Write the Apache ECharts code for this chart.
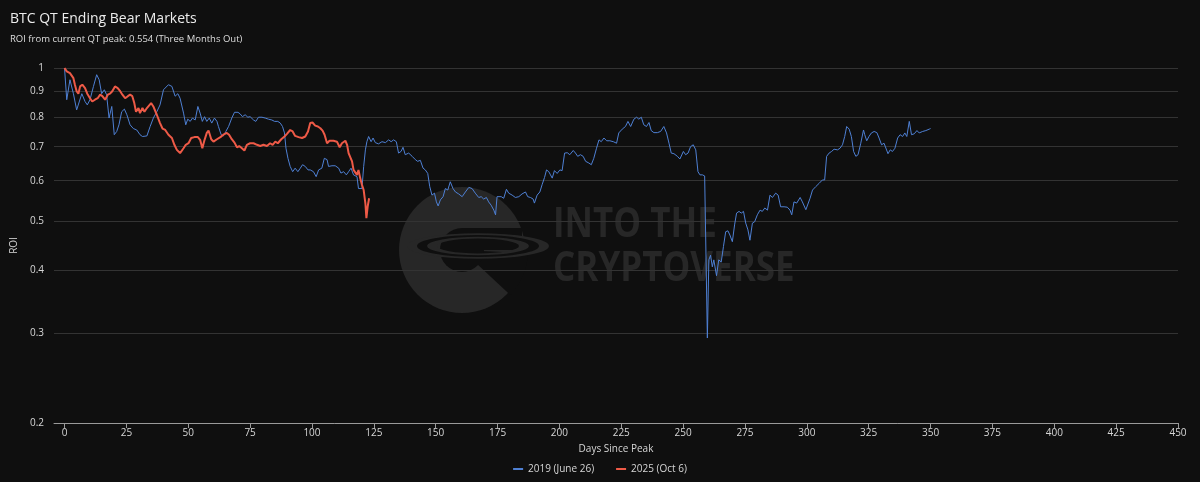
<!DOCTYPE html>
<html>
<head>
<meta charset="utf-8">
<script src="https://cdn.jsdelivr.net/npm/echarts@6/dist/echarts.min.js"></script>
<style>
html,body{margin:0;padding:0;background:#0f0f0f;}
#chart{width:1200px;height:482px;}
</style>
</head>
<body>
<div id="chart"></div>
<script>
// ---- data ----
const blueDays = [0,0.9,2.2,3.6,4.9,5.6,7,8.3,9.2,10.3,11.7,13,14,15,16.1,17,18,19.1,20.1,21.1,22,23.1,24.2,25.2,26.5,27.8,29.2,30.5,31.5,33.3,34.6,35.9,37.3,38.6,40,40.7,42,43.4,44.7,45.8,46.7,48.1,49,49.8,50.8,51.7,52.8,53.9,54.8,55.7,56.6,57.5,58.5,59.5,60.6,61.6,62.2,63.3,64.2,65.2,66.3,67.6,68.7,70.1,71,71.9,73,74.1,75,76.4,77.3,78.4,79.8,81.1,82.4,83.8,84.9,86.2,87.2,88.1,88.9,89.5,90.3,91.2,92.2,93.2,94.3,95.3,96.2,97.3,98.4,99.3,100.6,101.7,102.7,104,105,106.1,106.7,108.1,109.4,110.8,111.7,112.8,113.9,114.8,115.8,116.8,118.2,118.8,119.5,120.2,120.9,121.6,122.2,122.9,123.9,124.7,125.6,126.9,128.3,129.7,131,132,133,134.1,135,136,136.8,137.7,139.1,140.5,141.8,142.7,143.8,144.9,145.8,146.8,147.6,148.5,149.5,150.3,151,151.9,153,153.9,154.9,155.9,157,158,159.3,160.7,162,163.4,164.7,166,167.4,168.4,169.4,170.5,171.4,172.4,173.5,174.2,174.8,175.5,176.5,177.5,178.6,179.5,180.9,182.2,183.6,184.9,186.3,187.2,188.3,189.4,189.9,191,192.1,193,194,194.8,195.7,196.4,197.1,198,199.1,200.2,201.1,202.1,203.2,204.2,205.6,206.5,207.4,208.5,209.6,210.6,211.9,212.9,213.9,215,216,216.9,218,219.1,220.4,221.8,223.1,224,225.4,226.7,227.7,228.8,230.1,231.2,232.1,233.1,234.1,235.2,236.2,237.1,238.2,239.6,240.9,242.2,243.3,244.3,245.2,246.3,247.7,248.7,250.1,251,252,253,254.1,255.1,256,256.8,257.8,258.7,259.3,259.8,260.4,261.1,261.8,262.4,263.5,264.4,265.4,266.3,267.2,268.1,268.9,269.9,270.8,271.6,272.6,273.5,274.4,275.3,276.2,277,278,278.9,280,281.1,282,283,284.1,285.1,286.1,287.4,288.4,289.4,290.8,292.1,293.2,293.9,294.8,295.9,297.3,298.2,299.6,300.2,301.3,302.3,303.6,305,306.3,307.2,308,309,310,311,312.4,313.4,314.4,315.3,316.1,317.1,318,318.9,319.8,320.7,321.8,322.9,323.4,324.2,325.1,326.1,327.2,328.3,329.2,330.2,331.2,331.9,332.8,333.7,334.6,335.6,336.7,337.7,338.7,339.6,340.4,341.4,342.3,343.4,344.5,345.4,346.8,348.1,349.5,350];
const blueRoi = [1.0,0.866,0.948,0.89,0.827,0.82,0.89,0.859,0.846,0.866,0.92,0.97,0.948,0.89,0.906,0.886,0.797,0.84,0.739,0.75,0.773,0.82,0.83,0.809,0.773,0.76,0.755,0.739,0.733,0.735,0.767,0.797,0.82,0.846,0.906,0.9,0.927,0.92,0.88,0.89,0.872,0.815,0.773,0.793,0.785,0.797,0.79,0.84,0.815,0.785,0.802,0.785,0.797,0.779,0.797,0.785,0.767,0.739,0.735,0.75,0.767,0.797,0.818,0.818,0.812,0.802,0.809,0.8,0.802,0.79,0.785,0.8,0.8,0.797,0.793,0.79,0.785,0.785,0.779,0.767,0.745,0.695,0.664,0.64,0.625,0.635,0.625,0.635,0.645,0.64,0.63,0.63,0.625,0.611,0.63,0.635,0.664,0.66,0.64,0.642,0.642,0.635,0.621,0.625,0.616,0.625,0.635,0.616,0.611,0.579,0.575,0.579,0.64,0.69,0.716,0.733,0.716,0.728,0.713,0.709,0.716,0.713,0.722,0.716,0.722,0.716,0.68,0.685,0.698,0.675,0.68,0.67,0.66,0.655,0.658,0.635,0.63,0.62,0.584,0.562,0.567,0.545,0.535,0.55,0.558,0.579,0.575,0.597,0.579,0.57,0.565,0.558,0.57,0.582,0.579,0.567,0.556,0.558,0.552,0.556,0.545,0.537,0.525,0.514,0.558,0.554,0.558,0.554,0.577,0.567,0.562,0.556,0.558,0.565,0.57,0.558,0.556,0.552,0.542,0.562,0.57,0.589,0.609,0.63,0.625,0.616,0.607,0.628,0.62,0.63,0.628,0.68,0.681,0.675,0.688,0.68,0.67,0.675,0.67,0.655,0.65,0.645,0.664,0.695,0.722,0.716,0.728,0.719,0.719,0.716,0.711,0.745,0.758,0.767,0.785,0.767,0.793,0.8,0.793,0.8,0.773,0.767,0.781,0.753,0.746,0.746,0.75,0.767,0.745,0.711,0.68,0.678,0.67,0.662,0.685,0.675,0.68,0.7,0.706,0.69,0.625,0.616,0.616,0.613,0.611,0.294,0.419,0.428,0.406,0.419,0.39,0.419,0.415,0.445,0.476,0.478,0.469,0.455,0.491,0.518,0.522,0.518,0.522,0.495,0.48,0.458,0.495,0.498,0.514,0.525,0.522,0.53,0.525,0.562,0.556,0.567,0.562,0.533,0.533,0.532,0.525,0.514,0.545,0.542,0.556,0.545,0.526,0.53,0.554,0.575,0.584,0.593,0.602,0.602,0.67,0.68,0.685,0.692,0.69,0.695,0.706,0.733,0.767,0.758,0.733,0.685,0.67,0.675,0.711,0.755,0.739,0.719,0.733,0.745,0.75,0.746,0.728,0.706,0.711,0.706,0.678,0.69,0.685,0.695,0.728,0.739,0.733,0.745,0.733,0.785,0.739,0.742,0.753,0.745,0.75,0.753,0.758,0.76];
const redDays = [0,0.9,1.5,2.2,2.9,3.6,4.2,4.9,5.6,6.3,7.2,8.3,9.2,10.3,11.2,12.3,13.4,14.4,15.3,16.4,17.5,18.4,19.3,20.4,21.5,22.5,23.4,24.5,25.6,26.5,27.4,28.2,28.9,29.9,30.5,31.5,32.3,33.3,33.9,35,35.9,37.3,38.6,39.6,40.7,42,43.4,44.4,45.4,46.7,48.1,49,50.1,51.2,52.5,53.9,54.8,55.7,56.6,57.5,58.2,59.3,60.2,61.6,63,64.2,65.6,66.5,67.6,68.7,69.7,70.6,71.7,72.7,73.7,75,76.4,77.8,79.1,80.4,81.8,83.1,84.1,85.2,86.2,87.6,88.9,89.9,91.2,92.2,93.2,94.6,96,97.3,98.4,99.3,100.2,101.3,102.4,103.4,104.3,105.1,106.1,107.1,108.7,110.1,111.2,112.1,113.5,114.2,114.8,115.5,116.2,116.8,117.5,118.2,118.8,119.5,120.2,120.9,121.6,122,122.5,123.1];
const redRoi = [1.0,0.985,0.99,0.977,0.985,0.955,0.927,0.9,0.89,0.92,0.927,0.913,0.89,0.872,0.859,0.866,0.872,0.886,0.88,0.866,0.886,0.89,0.9,0.92,0.913,0.9,0.886,0.872,0.88,0.886,0.88,0.853,0.82,0.834,0.815,0.834,0.82,0.834,0.827,0.853,0.84,0.809,0.779,0.76,0.755,0.739,0.728,0.706,0.69,0.68,0.695,0.706,0.711,0.728,0.731,0.731,0.722,0.695,0.722,0.745,0.753,0.724,0.716,0.724,0.731,0.739,0.745,0.739,0.724,0.713,0.698,0.702,0.695,0.688,0.706,0.711,0.711,0.706,0.702,0.706,0.702,0.711,0.706,0.716,0.711,0.724,0.733,0.742,0.755,0.75,0.735,0.731,0.728,0.733,0.75,0.779,0.781,0.77,0.767,0.761,0.753,0.739,0.711,0.719,0.719,0.716,0.698,0.711,0.719,0.706,0.68,0.675,0.655,0.63,0.635,0.616,0.63,0.607,0.589,0.575,0.541,0.506,0.533,0.554];
const yTicks = [0.2,0.3,0.4,0.5,0.6,0.7,0.8,0.9,1];
const xTicks = [0,25,50,75,100,125,150,175,200,225,250,275,300,325,350,375,400,425,450];
const seriesNames = ['2019 (June 26)','2025 (Oct 6)'];
const titleText = 'BTC QT Ending Bear Markets';
const subtitleText = 'ROI from current QT peak: 0.554 (Three Months Out)';

const zip = (a, b) => a.map((d, i) => [d, b[i]]);
const WM = '#272727';
const BG = '#0f0f0f';

const chart = echarts.init(document.getElementById('chart'), null, {renderer: 'canvas'});
chart.setOption({
  backgroundColor: BG,
  animation: false,
  textStyle: {fontFamily: 'Open Sans, Noto Sans, sans-serif'},
  title: {
    text: titleText, subtext: subtitleText,
    left: 5, top: 7, itemGap: 8,
    textStyle: {color: '#ececec', fontSize: 14, fontWeight: 'normal'},
    subtextStyle: {color: '#dedede', fontSize: 9.5}
  },
  graphic: [
    // watermark logo: a "C" disc with a ring around it
    {type: 'circle', silent: true, z: 0, shape: {cx: 462, cy: 250, r: 63}, style: {fill: WM}},
    {type: 'sector', silent: true, z: 0, shape: {cx: 462, cy: 250, r: 66, r0: 0, startAngle: 0.05, endAngle: 0.75}, style: {fill: BG}},
    {type: 'circle', silent: true, z: 0, shape: {cx: 462, cy: 250, r: 22}, style: {fill: BG}},
    {type: 'rect', silent: true, z: 0, shape: {x: 462, y: 228, width: 60, height: 22}, style: {fill: BG}},
    {type: 'arc', silent: true, z: 0, originX: 478, originY: 246, scaleY: 0.18,
     shape: {cx: 478, cy: 246, r: 56, startAngle: 0, endAngle: Math.PI * 2}, style: {stroke: WM, lineWidth: 30, fill: 'none'}},
    {type: 'arc', silent: true, z: 0, originX: 478, originY: 246, scaleY: 0.18,
     shape: {cx: 478, cy: 246, r: 56, startAngle: 0, endAngle: Math.PI * 2}, style: {stroke: BG, lineWidth: 10, fill: 'none'}},
    {type: 'text', silent: true, z: 0, left: 553, top: 205, scaleY: 1.15,
     style: {text: 'INTO THE', fill: WM, font: 'bold 35px "Open Sans", sans-serif'}},
    {type: 'text', silent: true, z: 0, left: 553, top: 249, scaleY: 1.15,
     style: {text: 'CRYPTOVERSE', fill: WM, font: 'bold 35px "Open Sans", sans-serif'}}
  ],
  legend: {
    bottom: 3, left: 'center', itemWidth: 10, itemHeight: 2, itemGap: 22,
    icon: 'rect',
    textStyle: {color: '#d6d6d6', fontSize: 10},
    data: seriesNames
  },
  grid: {left: 54, right: 22, top: 68, bottom: 59},
  xAxis: {
    type: 'value', min: -4.25, max: 450,
    name: 'Days Since Peak', nameLocation: 'middle', nameGap: 21,
    nameTextStyle: {color: '#d6d6d6', fontSize: 10},
    axisLine: {show: true, lineStyle: {color: '#9a9a9a'}},
    axisTick: {show: true, length: 5, lineStyle: {color: '#9a9a9a'}, customValues: xTicks},
    axisLabel: {color: '#d6d6d6', fontSize: 10, margin: 5, customValues: xTicks},
    splitLine: {show: false}
  },
  yAxis: {
    type: 'log', logBase: 10, min: 0.2, max: 1,
    name: 'ROI', nameLocation: 'middle', nameGap: 33, nameRotate: 90,
    nameTextStyle: {color: '#d6d6d6', fontSize: 10},
    axisLine: {show: false},
    axisTick: {show: false, customValues: yTicks},
    axisLabel: {color: '#d6d6d6', fontSize: 10, margin: 10, customValues: yTicks},
    splitLine: {show: true, lineStyle: {color: '#333333', width: 1}}
  },
  series: [
    {name: seriesNames[0], type: 'line', data: zip(blueDays, blueRoi), showSymbol: false, symbol: 'none',
     lineStyle: {color: '#4f80d4', width: 1}, itemStyle: {color: '#4f80d4'}, z: 3},
    {name: seriesNames[1], type: 'line', data: zip(redDays, redRoi), showSymbol: false, symbol: 'none',
     lineStyle: {color: '#ee5a47', width: 2}, itemStyle: {color: '#ee5a47'}, z: 4}
  ]
});
</script>
</body>
</html>
